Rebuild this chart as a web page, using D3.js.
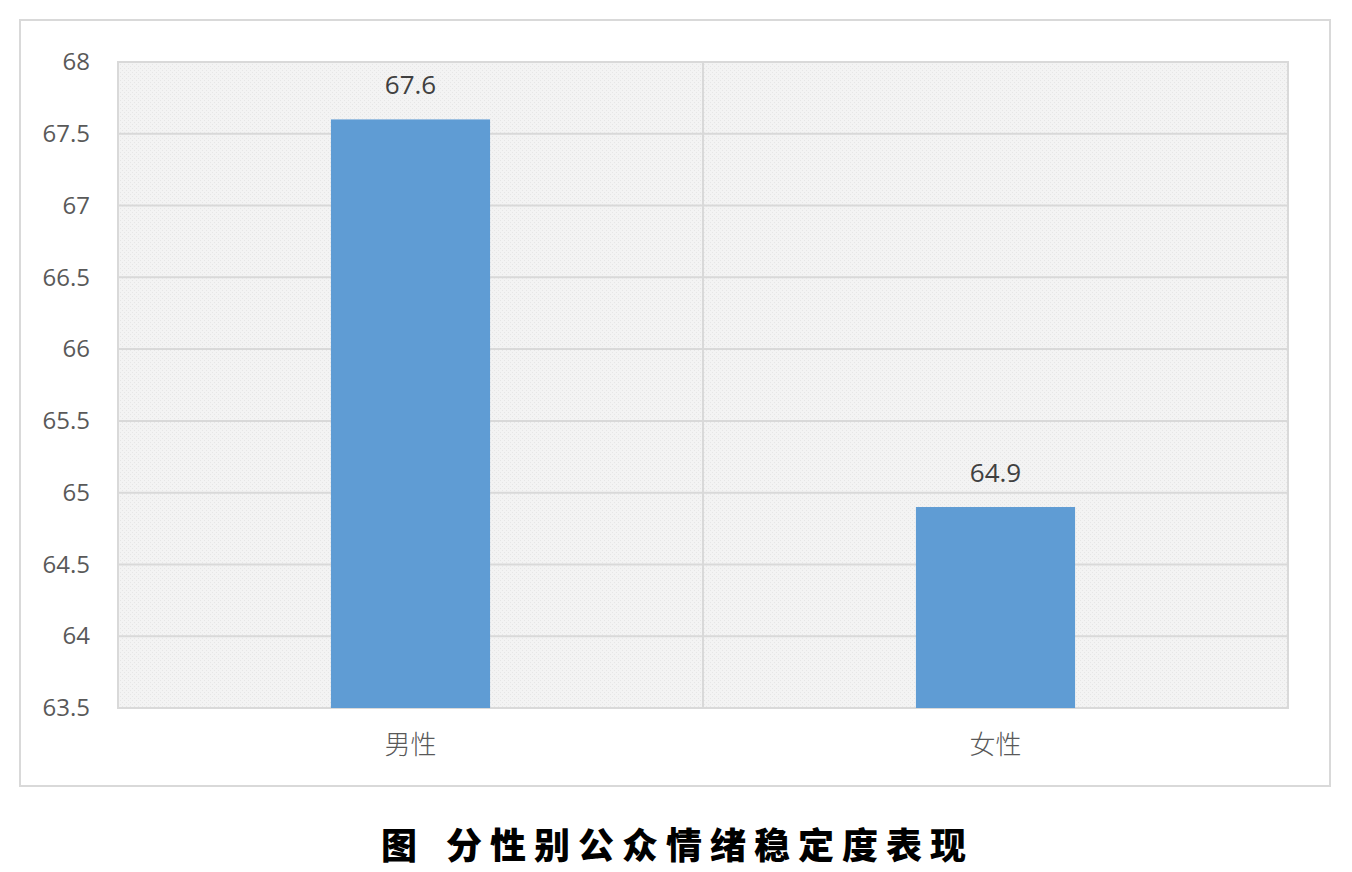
<!DOCTYPE html>
<html>
<head>
<meta charset="utf-8">
<script src="https://cdn.jsdelivr.net/npm/d3@7"></script>
<style>
  body { margin: 0; background: #fff; }
  svg { display: block; }
</style>
</head>
<body>
<svg id="chart"></svg>
<script>
// Data
const categories = ["男性", "女性"];
const values = [67.6, 64.9];
const yTicks = [63.5, 64, 64.5, 65, 65.5, 66, 66.5, 67, 67.5, 68];
const titleHead = "图";
const titleBody = "分性别公众情绪稳定度表现";

const W = 1352, H = 872;
const margin = { top: 62, right: 64, bottom: 164, left: 118 };
const width = W - margin.left - margin.right;
const height = H - margin.top - margin.bottom;

const svg = d3.select("#chart").attr("width", W).attr("height", H);

// Dotted background pattern
const defs = svg.append("defs");
const pat = defs.append("pattern")
    .attr("id", "dots")
    .attr("width", 4).attr("height", 4)
    .attr("patternUnits", "userSpaceOnUse");
pat.append("rect").attr("width", 4).attr("height", 4).attr("fill", "#f3f3f3");
pat.append("rect").attr("x", 0).attr("y", 0).attr("width", 1).attr("height", 1).attr("fill", "#e6e6e6");
pat.append("rect").attr("x", 2).attr("y", 2).attr("width", 1).attr("height", 1).attr("fill", "#e6e6e6");

// Outer frame
svg.append("rect")
    .attr("x", 20).attr("y", 20)
    .attr("width", 1310).attr("height", 766)
    .attr("fill", "#fff")
    .attr("stroke", "#d9d9d9").attr("stroke-width", 2);

const g = svg.append("g").attr("transform", `translate(${margin.left},${margin.top})`);

// Scales
const x = d3.scaleBand().domain(categories).range([0, width]).paddingInner(0).paddingOuter(0);
const y = d3.scaleLinear().domain([63.5, 68]).range([height, 0]);

// Plot background
g.append("rect")
    .attr("width", width).attr("height", height)
    .attr("fill", "url(#dots)");

// Gridlines
g.append("g")
    .selectAll("line")
    .data(yTicks)
    .join("line")
    .attr("x1", 0).attr("x2", width)
    .attr("y1", d => y(d)).attr("y2", d => y(d))
    .attr("stroke", "#d9d9d9").attr("stroke-width", 2);

// Category divider lines
g.append("g")
    .selectAll("line")
    .data(categories.slice(1))
    .join("line")
    .attr("x1", d => x(d)).attr("x2", d => x(d))
    .attr("y1", 0).attr("y2", height)
    .attr("stroke", "#d9d9d9").attr("stroke-width", 2);

// Plot border
g.append("rect")
    .attr("width", width).attr("height", height)
    .attr("fill", "none")
    .attr("stroke", "#d9d9d9").attr("stroke-width", 2);

// Bars
const barW = x.bandwidth() * 0.272;
g.selectAll(".bar")
    .data(categories)
    .join("rect")
    .attr("class", "bar")
    .attr("x", d => x(d) + x.bandwidth() / 2 - barW / 2)
    .attr("y", (d, i) => y(values[i]))
    .attr("width", barW)
    .attr("height", (d, i) => height - y(values[i]))
    .attr("fill", "#5f9cd4");

// Data labels
g.selectAll(".lbl")
    .data(categories)
    .join("text")
    .attr("class", "lbl")
    .attr("x", d => x(d) + x.bandwidth() / 2)
    .attr("y", (d, i) => y(values[i]) - 25)
    .attr("text-anchor", "middle")
    .attr("font-family", "Open Sans, sans-serif")
    .attr("font-size", 26)
    .attr("fill", "#404040")
    .text((d, i) => values[i]);

// Y axis
const yAxis = d3.axisLeft(y).tickValues(yTicks).tickSize(0).tickPadding(28).tickFormat(d3.format(""));
g.append("g")
    .call(yAxis)
    .call(s => s.select(".domain").remove())
    .selectAll("text")
    .attr("font-family", "Open Sans, sans-serif")
    .attr("font-size", 24)
    .attr("fill", "#595959");

// X axis
const xAxis = d3.axisBottom(x).tickSize(0).tickPadding(28);
g.append("g")
    .attr("transform", `translate(0,${height})`)
    .call(xAxis)
    .call(s => s.select(".domain").remove())
    .selectAll("text")
    .attr("font-family", "Noto Sans CJK SC, sans-serif")
    .attr("font-weight", 300)
    .attr("font-size", 26)
    .attr("fill", "#595959");

// Title
const t = svg.append("text")
    .attr("y", 859)
    .attr("font-family", "Noto Sans CJK SC, sans-serif")
    .attr("font-weight", 900)
    .attr("font-size", 36)
    .attr("fill", "#000");
t.append("tspan").attr("x", 381).text(titleHead);
t.append("tspan").attr("x", 446).attr("letter-spacing", 8).text(titleBody);
</script>
</body>
</html>
